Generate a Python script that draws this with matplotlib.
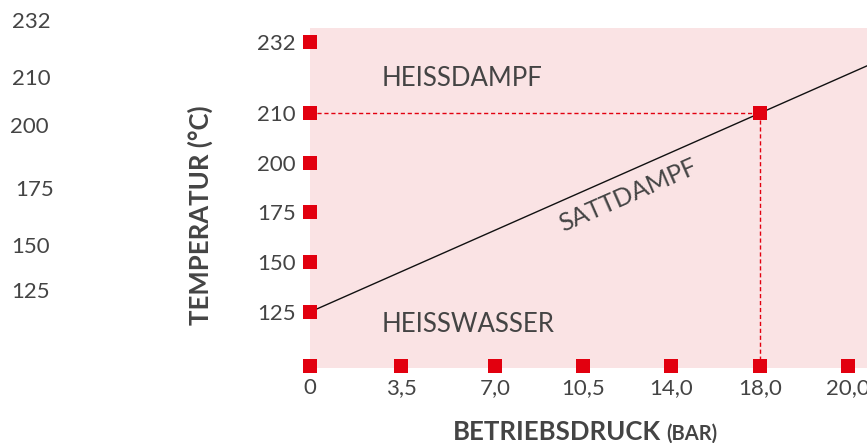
import matplotlib.pyplot as plt
import numpy as np

plt.rcParams['font.family'] = ['Lato', 'DejaVu Sans']

# data
pressure_labels = ["0", "3,5", "7,0", "10,5", "14,0", "18,0", "20,0"]
temp_labels = ["125", "150", "175", "200", "210", "232"]
stray_labels = ["232", "210", "200", "175", "150", "125"]
op_pressure = "18,0"
op_temp = "210"
line_start = ("0", "125")

# layout (axis positions of the categorical ticks, in grid units)
x_pos = np.array([0, 1.02, 2.06, 3.04, 4.03, 5.02, 6.0])
y_pos = [1.08, 2.08, 3.08, 4.06, 5.06, 6.48]
xmax = (867 - 310) / 89.7
ymin, ymax = -0.04, (366 - 28) / 50

pink = '#fae3e4'
red = '#e2000f'
grey = '#444444'

W, H = 867, 443
fig = plt.figure(figsize=(W / 100, H / 100), dpi=100)
ax = fig.add_axes([310 / W, (H - 368) / H, (W - 310) / W, (368 - 28) / H])
ax.set_facecolor(pink)
ax.set_xlim(0, xmax)
ax.set_ylim(ymin, ymax)
for s in ax.spines.values():
    s.set_visible(False)

ax.set_xticks(x_pos, pressure_labels, fontsize=16, color=grey)
ax.set_yticks(y_pos, temp_labels, fontsize=16, color=grey)
ax.tick_params(axis='x', length=0, pad=7)
ax.tick_params(axis='y', length=0, pad=10)

# square markers along both axes
ax.scatter(x_pos, np.zeros(len(x_pos)), marker='s', s=100, color=red,
           clip_on=False, zorder=5, linewidths=0)
ax.scatter(np.zeros(len(y_pos)), y_pos, marker='s', s=100, color=red,
           clip_on=False, zorder=5, linewidths=0)

# operating point
px = x_pos[pressure_labels.index(op_pressure)]
py = y_pos[temp_labels.index(op_temp)]
ax.plot([0, px], [py, py], color=red, lw=1, ls=(0, (3, 2)), zorder=3)
ax.plot([px, px], [py, ymin], color=red, lw=1, ls=(0, (3, 2)), zorder=3)
ax.scatter([px], [py], marker='s', s=100, color=red, zorder=6, linewidths=0)

# saturation line through start and operating point
x0 = x_pos[pressure_labels.index(line_start[0])]
y0 = y_pos[temp_labels.index(line_start[1])]
slope = (py - y0) / (px - x0)
xs = np.array([x0, xmax])
ax.plot(xs, y0 + slope * (xs - x0), color='#111111', lw=1, zorder=4)

ax.text(0.8, 5.74, "HEISSDAMPF", fontsize=18.5, color=grey, va='center', ha='left')
ax.text(0.8, 0.83, "HEISSWASSER", fontsize=18.5, color=grey, va='center', ha='left')
ax.text(3.54, 3.42, "SATTDAMPF", fontsize=18, color=grey, va='center', ha='center',
        rotation=23.7, rotation_mode='anchor')

fig.text(200 / W, 1 - 215 / H, "TEMPERATUR (°C)", rotation=90, fontsize=18.5,
         fontweight='bold', color=grey, ha='center', va='center')
fig.text(453 / W, 1 - 440 / H, "BETRIEBSDRUCK", fontsize=18.5,
         fontweight='bold', color=grey, ha='left', va='baseline')
fig.text(666 / W, 1 - 440 / H, "(BAR)", fontsize=14.5, fontweight='bold',
         color=grey, ha='left', va='baseline')

stray_y = [22, 79, 127, 190, 247, 292]
stray_x = [31, 31, 29, 35, 31, 31]
for lab, sx, sy in zip(stray_labels, stray_x, stray_y):
    fig.text(sx / W, 1 - sy / H, lab, fontsize=16, color=grey,
             ha='center', va='center')

fig.savefig('out.png', dpi=100)
